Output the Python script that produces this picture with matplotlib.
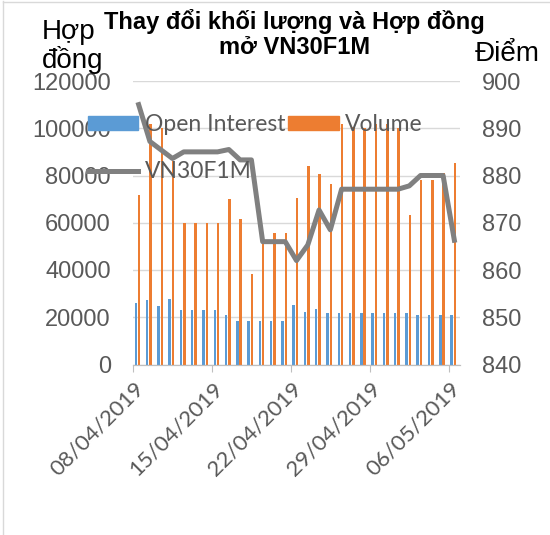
import matplotlib
matplotlib.use('Agg')
import matplotlib.pyplot as plt
import matplotlib.dates as mdates
import matplotlib.transforms as mtransforms
from matplotlib.lines import Line2D
from matplotlib.patches import Patch
import pandas as pd

# daily data 08/04/2019 - 06/05/2019
dates = pd.date_range('2019-04-08', '2019-05-06', freq='D')
open_interest = [25900, 27300, 24800, 27600, 23100, 23100, 23100, 23100, 21000, 18500,
                 18500, 18500, 18500, 18500, 25000, 22100, 23400, 21700, 21700, 21700,
                 21700, 21700, 21700, 21700, 21700, 21100, 21100, 21100, 21100]
volume = [71600, 102000, 100300, 86000, 59800, 59800, 59800, 59800, 69900, 61700,
          38400, 55500, 55500, 55500, 70300, 84100, 80600, 76400, 101800, 100700,
          100000, 101800, 101800, 100000, 63300, 78100, 78100, 81000, 85100]
vn30f1m = [895.0, 887.2, 885.4, 883.6, 885.0, 885.0, 885.0, 885.0, 885.5, 883.3,
           883.3, 866.0, 866.0, 866.0, 862.0, 865.3, 872.7, 868.5, 877.1, 877.1,
           877.1, 877.1, 877.1, 877.1, 877.8, 880.0, 880.0, 880.0, 866.3]
tick_dates = ['2019-04-08', '2019-04-15', '2019-04-22', '2019-04-29', '2019-05-06']

BLUE = '#5B9BD5'
ORANGE = '#ED7D31'
GREY = '#808080'
TXT = '#595959'
GRID = '#d9d9d9'

W, H = 550, 535
fig = plt.figure(figsize=(5.5, 5.35), dpi=100)
ax = fig.add_axes([133 / W, 1 - 364.5 / H, (460 - 133) / W, (364.5 - 81) / H])
ax2 = ax.twinx()

x = mdates.date2num(dates)
ax.bar(x + 0.25, open_interest, width=0.22, color=BLUE, zorder=2)
ax.bar(x + 0.55, volume, width=0.22, color=ORANGE, zorder=2)
ax2.plot(x + 0.5, vn30f1m, color=GREY, lw=3.6, solid_joinstyle='round')

ax.set_xlim(x[0], x[-1] + 1)
ax.set_ylim(0, 120000)
ax2.set_ylim(840, 900)
ax.set_yticks(range(0, 120001, 20000))
ax2.set_yticks(range(840, 901, 10))
ax.yaxis.grid(True, color=GRID, lw=1)
ax.set_axisbelow(True)

for a in (ax, ax2):
    for s in ('left', 'right', 'top'):
        a.spines[s].set_visible(False)
    a.spines['bottom'].set_color('#bfbfbf')
ax.tick_params(axis='y', length=0, pad=16, labelsize=17, labelcolor=TXT)
ax2.tick_params(axis='y', length=0, pad=16, labelsize=17, labelcolor=TXT)
for lab in ax.get_yticklabels() + ax2.get_yticklabels():
    lab.set_fontfamily('Liberation Sans')

ticks = mdates.date2num(pd.to_datetime(tick_dates))
ax.set_xticks(ticks)
ax.set_xticklabels([pd.Timestamp(t).strftime('%d/%m/%Y') for t in tick_dates],
                   rotation=45, ha='right', va='center', rotation_mode='anchor',
                   fontsize=16, color=TXT, family='Lato')
ax.tick_params(axis='x', length=5, color='#bfbfbf', pad=10)
shift = mtransforms.ScaledTranslation(8 / 100, 0, fig.dpi_scale_trans)
for lab in ax.get_xticklabels():
    lab.set_transform(lab.get_transform() + shift)

# title, one text per line
fig.text(0.535, 1 - 9 / H, 'Thay đổi khối lượng và Hợp đồng',
         ha='center', va='top', fontsize=17, fontweight='bold', family='Liberation Sans')
fig.text(0.535, 1 - 36 / H, 'mở VN30F1M',
         ha='center', va='top', fontsize=17, fontweight='bold', family='Liberation Sans')
fig.text(42 / W, 1 - 19 / H, 'Hợp\nđồng', ha='left', va='top', fontsize=20,
         family='Liberation Sans', linespacing=1.05)
fig.text(475 / W, 1 - 41 / H, 'Điểm', ha='left', va='top', fontsize=20,
         family='Liberation Sans')

handles = [Patch(color=BLUE), Line2D([], [], color=GREY, lw=3.6), Patch(color=ORANGE)]
labels = ['Open Interest', 'VN30F1M', 'Volume']
fig.legend(handles, labels, ncol=2, loc='upper left',
           bbox_to_anchor=(88 / W, 1 - 114 / H), frameon=False,
           prop={'family': 'Lato', 'size': 16.5}, labelcolor=TXT,
           handlelength=2.2, handleheight=0.55, handletextpad=0.3,
           columnspacing=0.1, labelspacing=1.15, borderpad=0, borderaxespad=0)

fig.add_artist(Line2D([3 / W, 3 / W], [0, 1 - 1 / H], color=GRID, lw=1))
fig.add_artist(Line2D([3 / W, 1], [1 - 1.5 / H, 1 - 1.5 / H], color=GRID, lw=1))

fig.savefig('out.png', dpi=100)
